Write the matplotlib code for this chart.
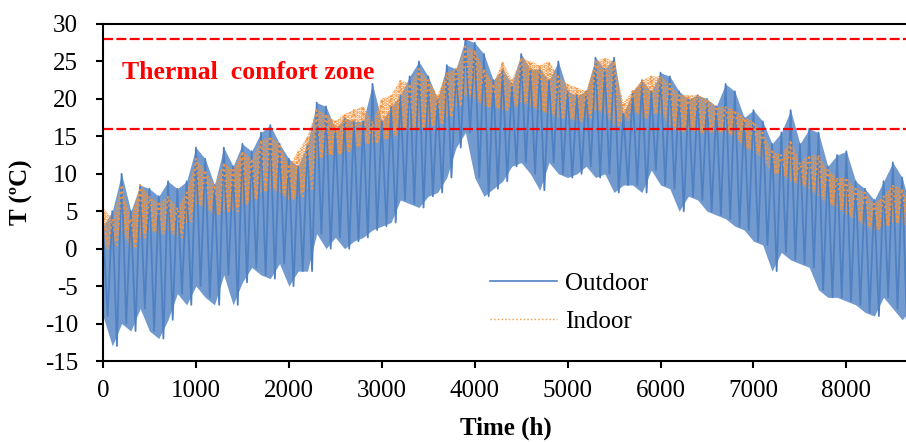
import numpy as np
import matplotlib.pyplot as plt

plt.rcParams['font.family'] = ['Liberation Serif', 'DejaVu Serif']
plt.rcParams['axes.unicode_minus'] = False
plt.rcParams['hatch.linewidth'] = 2.2

# Hourly temperature: daily-ish highs at every 100 h,
# lows at the 50 h offsets in between (ºC)
hours = np.arange(0, 8800, 100)

outdoor_hi = [3, 5, 10, 5, 8.5, 8, 7, 9, 8, 9,
              13.5, 12, 8.5, 13.5, 11, 14, 13, 15.5, 16.5, 14,
              12, 11, 14, 19.5, 19, 16, 17.5, 17, 17, 22,
              17, 19, 20.5, 23, 25, 23, 20, 24.5, 24, 28,
              27.5, 26, 22.5, 24, 22, 26, 24, 24, 22.5, 25,
              21, 20.5, 21, 25.5, 24, 25.5, 18, 21, 22.5, 21,
              23.5, 23, 21, 20, 20.5, 20, 19, 22, 21, 17.5,
              18.5, 17, 14, 15.5, 18.5, 14, 16, 15.5, 11, 12.5,
              13, 9, 8, 6.5, 9, 11.5, 9.5, 5]
outdoor_lo = [-9, -13, -10, -11, -8, -11, -12, -9.5, -6, -7.5,
              -5, -6.5, -7.5, -3.5, -7.5, -4.5, -2.5, -3.5, -4, -2,
              -5, -3, -3, 2, 0, 1.5, 0, 1, 1.5, 2.5,
              3, 3.5, 6.5, 6, 5.5, 7, 7.5, 9.5, 13.5, 15.5,
              9.5, 7, 8, 9, 11, 11.5, 10, 7.8, 11.5, 10,
              9.5, 10, 11, 9.5, 10, 7.5, 8.5, 8.5, 7.5, 10.5,
              8.5, 8, 5, 7, 6.5, 5, 4.5, 4, 3, 2.5,
              1, 0.5, -3, -0.5, -1.5, -2, -2.5, -5.5, -6.5, -6.5,
              -7, -7.5, -8.5, -9, -6.5, -8, -9.5, -8]

indoor_hi = [5.5, 4, 8.5, 4, 8.5, 7, 6, 7, 5.5, 7.5,
             12, 10.5, 8.5, 11.5, 10.5, 13, 12, 14.5, 15, 14,
             11, 13, 15, 18.5, 18, 17, 18, 18.5, 19, 17,
             20, 20.5, 22.5, 22, 24, 22.5, 20.5, 23.5, 24, 27,
             26.5, 24, 22, 25, 22.5, 25.5, 25, 24.5, 25, 23,
             22, 21.5, 21, 25, 25.5, 25, 19.5, 21, 22.5, 23,
             23, 22, 20.5, 20.5, 20.5, 20, 19, 19, 18.5, 17.5,
             17, 15.5, 13, 12.5, 14.5, 11.5, 12.5, 12.5, 10.5, 9.5,
             9.5, 8, 7.5, 6, 7, 8.5, 8, 5.5]
indoor_lo = [0, 0.5, 2.5, 0, 1.5, 2.5, 2, 2.5, 1.5, 3.5,
             6, 5.5, 4.5, 5, 5, 6, 6.5, 7.5, 8, 7.5,
             6.5, 7, 8, 12, 12.5, 12.5, 13, 13.5, 14, 14,
             14.5, 15, 16, 16, 16, 16.5, 16.5, 17.5, 19, 20.5,
             20, 19, 19, 18.5, 19, 19.5, 19, 18.5, 18, 17.5,
             17.5, 17, 17.5, 18.5, 18, 16.5, 17, 18.5, 17.5, 18,
             18, 16.5, 15.5, 16, 15.5, 15.5, 15.5, 15.5, 15, 13.5,
             13, 12, 10, 10, 9, 8.5, 8, 7, 6, 5.5,
             4.5, 4, 3, 2.5, 3, 3.5, 3.5, 2.5]

comfort_low, comfort_high = 16, 28

blue = '#4f81c2'
orange = '#f39541'


def zigzag(hi, lo):
    t = np.column_stack([hours, hours + 50]).ravel()
    y = np.column_stack([hi, lo]).ravel()
    return t, y


fig = plt.figure(figsize=(9.06, 4.42), dpi=100)
ax = fig.add_axes([103 / 906, 81 / 442, 814 / 906, 337 / 442])

# outdoor: dense band plus the spiky trace
ax.fill_between(hours, outdoor_hi, outdoor_lo, color=blue, alpha=0.8, lw=0)
t, y = zigzag(outdoor_hi, outdoor_lo)
ax.plot(t, y, color=blue, lw=1.3, label='Outdoor')

# indoor: dotted texture on top
ax.fill_between(hours, indoor_hi, indoor_lo, facecolor='none', edgecolor=orange,
                hatch='....', lw=0)
t, y = zigzag(indoor_hi, indoor_lo)
ax.plot(t, y, color=orange, lw=1.4, ls=':', label='Indoor')

for lvl in (comfort_low, comfort_high):
    ax.axhline(lvl, color='red', lw=1.6, dashes=(4.5, 1.5))

ax.text(0.023, 0.855, 'Thermal  comfort zone', transform=ax.transAxes,
        color='red', fontsize=18.5, fontweight='bold', va='center', ha='left')

ax.set_xlim(0, 8760)
ax.set_ylim(-15, 30)
ax.set_xticks(range(0, 9000, 1000))
ax.set_yticks(range(-15, 31, 5))
ax.tick_params(axis='both', direction='out', length=5, width=1.5, labelsize=18)
ax.tick_params(axis='y', pad=13)
ax.tick_params(axis='x', pad=9)
for s in ax.spines.values():
    s.set_linewidth(1.5)

ax.set_xlabel('Time (h)', fontsize=18, fontweight='bold')
ax.set_ylabel('T (ºC)', fontsize=18, fontweight='bold')
ax.xaxis.set_label_coords(0.495, -0.166)
ax.yaxis.set_label_coords(-0.086, 0.5)

leg = ax.legend(loc='upper left', bbox_to_anchor=(0.475, 0.262), frameon=False,
                fontsize=18, handlelength=2.7, handletextpad=0.3, labelspacing=0.6,
                borderpad=0, borderaxespad=0)
leg.get_lines()[0].set_linewidth(1.2)
leg.get_lines()[1].set_linewidth(1.0)

fig.savefig('out.png', dpi=100)
